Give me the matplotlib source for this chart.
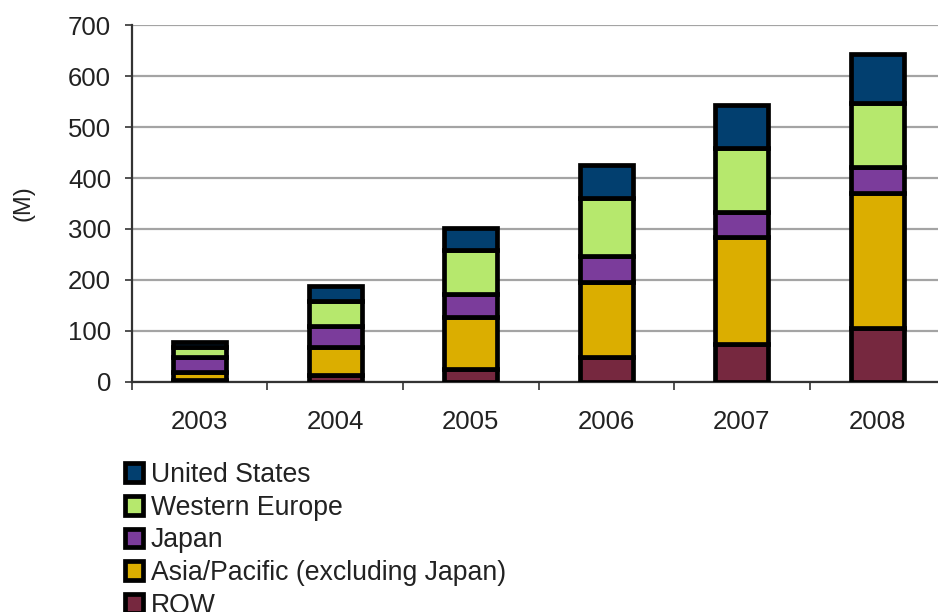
import numpy as np
import matplotlib.pyplot as plt
from matplotlib.patches import Patch

plt.rcParams['font.family'] = 'Liberation Sans'
plt.rcParams['font.size'] = 18.5

# Valores por região (milhões)
anos = ['2003', '2004', '2005', '2006', '2007', '2008']
row = [3, 13, 25, 48, 75, 105]
asia_pacific = [16, 55, 102, 147, 210, 266]
japan = [29, 41, 46, 52, 48, 50]
western_europe = [21, 49, 85, 113, 125, 127]
united_states = [10, 31, 44, 65, 85, 96]

series = [
    ('ROW', row, '#76283f'),
    ('Asia/Pacific (excluding Japan)', asia_pacific, '#dbae00'),
    ('Japan', japan, '#7b3c9b'),
    ('Western Europe', western_europe, '#b6e86d'),
    ('United States', united_states, '#023f6f'),
]

fig = plt.figure(figsize=(9.38, 6.12), dpi=100)
ax = fig.add_axes([0.1407, 0.376, 0.8668, 0.583])

x = np.arange(len(anos))
base = np.zeros(len(anos))
for nome, valores, cor in series:
    ax.bar(x, valores, width=0.39, bottom=base, color=cor,
           edgecolor='black', linewidth=3.4, zorder=3)
    base += np.array(valores)

ax.set_xlim(-0.5, len(anos) - 0.5)
ax.set_ylim(0, 700)
ax.set_yticks(range(0, 701, 100))
ax.set_axisbelow(True)
ax.yaxis.grid(True, color='#a4a4a4', linewidth=1.6)

ax.set_xticks(x)
ax.set_xticklabels(anos)
ax.set_xticks(np.arange(-0.5, len(anos)), minor=True)
ax.tick_params(axis='x', which='major', length=0, pad=20, colors='#222222')
ax.tick_params(axis='x', which='minor', length=6, width=1.2, color='#333333')
ax.tick_params(axis='y', length=5, width=1.2, pad=10, color='#333333',
               labelcolor='#222222')

for lado in ['top', 'right']:
    ax.spines[lado].set_visible(False)
for lado in ['left', 'bottom']:
    ax.spines[lado].set_color('#333333')
    ax.spines[lado].set_linewidth(1.6)

fig.text(24 / 938, 1 - 203 / 612, '(M)', rotation=90, fontsize=17,
         ha='center', va='center', color='#222222')

handles = [Patch(facecolor=cor, edgecolor='black', linewidth=3.4, label=nome)
           for nome, valores, cor in reversed(series)]
fig.legend(handles=handles, loc='upper left', bbox_to_anchor=(0.133, 0.245),
           frameon=False, handlelength=0.7, handleheight=0.7,
           handletextpad=0.28, labelspacing=0.25, borderaxespad=0,
           borderpad=0, fontsize=19.2, labelcolor='#222222')

fig.savefig('out.png', dpi=100)
